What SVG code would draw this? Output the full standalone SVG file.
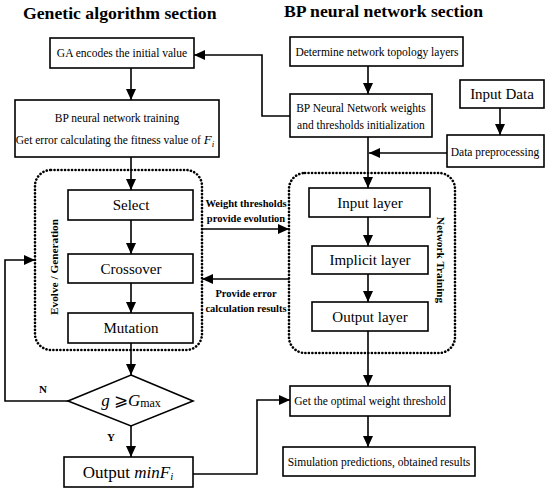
<svg xmlns="http://www.w3.org/2000/svg" width="550" height="493" viewBox="0 0 550 493">
<defs>
<marker id="ah" markerUnits="userSpaceOnUse" markerWidth="12" markerHeight="10" refX="11" refY="5" orient="auto">
<path d="M0,0 L11,5 L0,10 Z" fill="#000"/>
</marker>
<style>
.box{fill:#fff;stroke:#000;stroke-width:1.6}
.dot{fill:none;stroke:#000;stroke-width:2.6;stroke-dasharray:0.1 3.4;stroke-linecap:round}
.ar{fill:none;stroke:#000;stroke-width:1.6;marker-end:url(#ah)}
text{fill:#000;text-anchor:middle}
.t{font-size:11.5px}
.m{font-size:15px}
.h{font-size:17.7px;font-weight:bold;text-anchor:start}
.lb{font-size:10.5px;font-weight:bold}
.v{font-size:11.3px;font-weight:bold}
</style>
</defs>
<rect width="550" height="493" fill="#fff"/>
<g font-family="'Liberation Serif', 'DejaVu Serif', serif">
<text class="h" x="23" y="19">Genetic algorithm section</text>
<text class="h" x="284" y="17">BP neural network section</text>

<g id="connectors">
<path class="ar" d="M131,68 V100"/>
<path class="ar" d="M131,157 V190"/>
<path class="ar" d="M131,220 V254"/>
<path class="ar" d="M131,283 V313"/>
<path class="ar" d="M131,343 V375"/>
<path class="ar" d="M131,426 V457"/>
<path class="ar" d="M68,401 H5 V260 H35"/>
<path class="ar" d="M193,474 H257 V400 H290"/>
<path class="ar" d="M290,116 H262 V55 H194"/>
<path class="ar" d="M368,66 V94"/>
<path class="ar" d="M368,137 V188"/>
<path class="ar" d="M500,108 V135"/>
<path class="ar" d="M447,153 H369"/>
<path class="ar" d="M368,217 V246"/>
<path class="ar" d="M368,274 V302"/>
<path class="ar" d="M368,331 V386"/>
<path class="ar" d="M368,416 V447"/>
<path class="ar" d="M202,229 H289"/>
<path class="ar" d="M289,279 H202"/>
<text class="lb" x="246" y="207">Weight thresholds</text>
<text class="lb" x="246" y="222">provide evolution</text>
<text class="lb" x="246" y="297">Provide error</text>
<text class="lb" x="246" y="312">calculation results</text>
<text class="lb" x="43" y="393" style="font-size:11px">N</text>
<text class="lb" x="111" y="441" style="font-size:11px">Y</text>
</g>

<g id="ga-group">
<rect class="dot" x="35" y="170" width="167" height="180" rx="16"/>
<text class="v" transform="translate(58,267) rotate(-90)">Evolve / Generation</text>
</g>
<g id="nt-group">
<rect class="dot" x="289" y="173" width="166" height="180" rx="16"/>
<text class="v" transform="translate(437,260) rotate(90)">Network Training</text>
</g>

<g id="ga-encode"><rect class="box" x="50" y="38" width="144" height="30"/><text class="t" x="122" y="57">GA encodes the initial value</text></g>
<g id="bp-training"><rect class="box" x="15" y="100" width="204" height="57"/><text class="t" x="117" y="122">BP neural network training</text><text class="t" x="115" y="144">Get error calculating the fitness value of <tspan font-style="italic" font-size="13">F</tspan><tspan font-style="italic" font-size="9" dy="3">i</tspan></text></g>
<g id="select"><rect class="box" x="68" y="190" width="125" height="30"/><text class="m" x="131" y="210">Select</text></g>
<g id="crossover"><rect class="box" x="68" y="254" width="125" height="29"/><text class="m" x="131" y="274">Crossover</text></g>
<g id="mutation"><rect class="box" x="68" y="313" width="125" height="30"/><text class="m" x="131" y="333">Mutation</text></g>
<g id="decision"><path class="box" d="M131,375 L193,401 L131,426 L68,401 Z"/><text x="131" y="406" style="font-size:17px"><tspan font-style="italic">g</tspan> ⩾<tspan font-style="italic">G</tspan><tspan font-size="12" dy="1">max</tspan></text></g>
<g id="output-min"><rect class="box" x="64" y="457" width="129" height="30"/><text x="128" y="478" style="font-size:17px">Output <tspan font-style="italic">minF</tspan><tspan font-style="italic" font-size="11" dy="2">i</tspan></text></g>

<g id="topology"><rect class="box" x="290" y="37" width="173" height="29"/><text class="t" x="377" y="56">Determine network topology layers</text></g>
<g id="init"><rect class="box" x="290" y="94" width="142" height="43"/><text class="t" x="361" y="112">BP Neural Network weights</text><text class="t" x="361" y="129">and thresholds initialization</text></g>
<g id="input-data"><rect class="box" x="460" y="80" width="84" height="28"/><text class="m" x="502" y="99">Input Data</text></g>
<g id="preprocess"><rect class="box" x="447" y="135" width="97" height="32"/><text class="t" x="495" y="156">Data preprocessing</text></g>
<g id="input-layer"><rect class="box" x="309" y="188" width="121" height="29"/><text class="m" x="370" y="208">Input layer</text></g>
<g id="implicit-layer"><rect class="box" x="312" y="246" width="116" height="28"/><text class="m" x="370" y="265">Implicit layer</text></g>
<g id="output-layer"><rect class="box" x="312" y="302" width="116" height="29"/><text class="m" x="370" y="322">Output layer</text></g>
<g id="optimal"><rect class="box" x="290" y="386" width="160" height="30"/><text class="t" x="370" y="405">Get the optimal weight threshold</text></g>
<g id="simulation"><rect class="box" x="283" y="447" width="192" height="29"/><text class="t" x="379" y="466">Simulation predictions, obtained results</text></g>
</g>
</svg>
